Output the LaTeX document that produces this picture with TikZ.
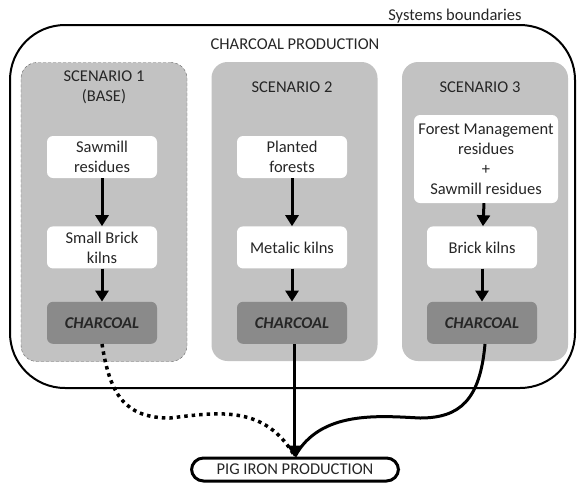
\documentclass[tikz,border=0pt]{standalone}
\usepackage{fontspec}
\setmainfont{Carlito}
\usetikzlibrary{positioning,arrows.meta}
\definecolor{scengray}{gray}{0.76}
\definecolor{coalgray}{gray}{0.54}
\definecolor{txtgray}{gray}{0.15}

\begin{document}
\begin{tikzpicture}[x=1pt, y=-1pt, font=\fontsize{16.5}{20}\selectfont, text=txtgray,
  scen/.style = {fill=scengray, rounded corners=16pt, minimum width=166pt, minimum height=299pt, inner sep=0pt},
  inbox/.style = {fill=white, rounded corners=6pt, minimum width=110pt, minimum height=42pt, inner sep=0pt, align=center},
  coal/.style = {inbox, fill=coalgray, font=\fontsize{16.5}{20}\selectfont\bfseries\itshape},
  flow/.style = {line width=3pt, -{Triangle[length=11pt,width=13pt]}},
  pigbox/.style = {draw=black, line width=3pt, rounded corners=12pt, minimum width=207pt, minimum height=23pt, inner sep=0pt}]
\useasboundingbox (0,0) rectangle (577,485);
% System boundary
\draw[line width=2pt, rounded corners=55pt] (10,25) rectangle (575,388);
\node[anchor=base] (sysb) at (455,20) {Systems boundaries};
\node (prod) at (295,44) {CHARCOAL PRODUCTION};
% Scenarios
\node[scen, draw=black!60, densely dashed, thin] (s1) at (104,212) {};
\node[scen] (s2) at (294.5,211.5) {};
\node[scen] (s3) at (485,211.5) {};
\node[align=center] (t1) at (104,87) {SCENARIO 1\\(BASE)};
\node (t2) at (292,87) {SCENARIO 2};
\node (t3) at (480,87) {SCENARIO 3};
% Nodes
\node[inbox] (r1) at (102,157) {Sawmill\\residues};
\node[inbox] (k1) [below=48pt of r1] {Small Brick\\kilns};
\node[coal] (c1) [below=33pt of k1] {CHARCOAL};
\node[inbox] (r2) at (292,157) {Planted\\forests};
\node[inbox] (k2) [below=48pt of r2] {Metalic kilns};
\node[coal] (c2) [below=33pt of k2] {CHARCOAL};
\node[inbox, minimum width=144pt, minimum height=88pt] (r3) at (486,159) {Forest Management\\residues\\+\\Sawmill residues};
\node[inbox] (k3) [below=23pt of r3, xshift=-4pt] {Brick kilns};
\node[coal] (c3) [below=33pt of k3] {CHARCOAL};
\node[pigbox] (pig) at (295,469.5) {PIG IRON PRODUCTION};
% Edges
\draw[flow] (r1) -- (k1);
\draw[flow] (k1) -- (c1);
\draw[flow] (r2) -- (k2);
\draw[flow] (k2) -- (c2);
\draw[flow] (r3) -- (k3);
\draw[flow] (k3) -- (c3);
\draw[line width=3.5pt, dash pattern=on 3.5pt off 4pt] (c1.south) .. controls (110,395) and (125,418) .. (170,418)
  .. controls (220,412) and (265,405) .. (pig.north);
\draw[line width=3pt] ([xshift=3pt]c3.south) .. controls (480,400) and (460,418) .. (420,418)
  .. controls (380,416) and (320,410) .. (pig.north);
\draw[flow] ([xshift=2pt]c2.south) -- ([xshift=2pt]c2.south |- pig.north);
\end{tikzpicture}
\end{document}
